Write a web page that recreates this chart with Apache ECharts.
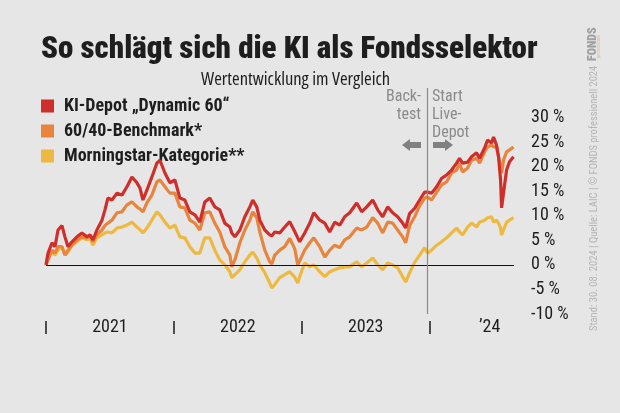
<!DOCTYPE html>
<html>
<head>
<meta charset="utf-8">
<script src="https://cdn.jsdelivr.net/npm/echarts@6/dist/echarts.min.js"></script>
<style>html,body{margin:0;padding:0;background:#e6e6e6}#c{width:620px;height:413px}</style>
</head>
<body>
<div id="c"></div>
<script>
// decimal years
const dates = [2021.000,2021.016,2021.047,2021.070,2021.094,2021.125,2021.148,2021.172,2021.203,2021.242,2021.281,2021.320,2021.344,2021.367,2021.398,2021.438,2021.461,2021.484,2021.516,2021.555,2021.594,2021.633,2021.672,2021.711,2021.734,2021.758,2021.789,2021.828,2021.867,2021.891,2021.930,2021.969,2022.008,2022.047,2022.086,2022.125,2022.164,2022.203,2022.242,2022.281,2022.320,2022.359,2022.398,2022.438,2022.453,2022.477,2022.516,2022.555,2022.594,2022.617,2022.648,2022.672,2022.711,2022.750,2022.766,2022.789,2022.828,2022.867,2022.906,2022.945,2022.969,2022.984,2023.023,2023.063,2023.094,2023.141,2023.180,2023.219,2023.258,2023.297,2023.336,2023.375,2023.430,2023.469,2023.508,2023.555,2023.594,2023.633,2023.672,2023.711,2023.750,2023.789,2023.813,2023.844,2023.883,2023.922,2023.961,2023.984,2024.016,2024.055,2024.094,2024.133,2024.172,2024.211,2024.234,2024.258,2024.297,2024.328,2024.367,2024.391,2024.430,2024.453,2024.484,2024.500,2024.523,2024.539,2024.555,2024.563,2024.578,2024.602,2024.625,2024.656];
const kiDepot = [0,2.4,4.5,3.7,7.1,8.0,5.7,3.7,4.7,5.7,6.5,5.7,6.1,5.1,7.1,9.1,11.2,13.6,13.2,14.6,14.2,15.9,17.9,16.7,15.7,13.2,15.2,17.9,20.7,21.3,18.7,16.7,17.3,13.6,13.2,10.8,10.2,8.7,12.8,13.6,11.8,11.2,8.5,7.7,6.5,5.7,7.1,9.8,11.8,13.2,11.8,9.1,7.1,6.1,5.9,6.7,6.5,7.7,8.8,6.8,5.5,4.7,6.5,8.5,10.6,9.1,8.5,6.7,8.7,8.1,9.8,10.6,12.6,10.8,11.8,13.2,11.2,9.8,11.8,10.6,9.8,8.5,7.5,10.5,11.5,13.2,14.8,14.8,14.6,15.9,17.6,18.3,19.3,20.7,21.7,20.7,20.9,22.0,22.8,21.7,23.8,25.4,24.8,26.0,24.4,22.0,17.3,11.6,14.6,19.3,21.0,22.0];
const benchmark = [0,1.0,3.0,2.4,3.7,3.7,2.0,3.0,4.0,5.1,5.7,5.5,6.0,4.7,6.1,7.1,8.0,8.5,9.1,10.6,10.8,12.2,12.8,11.8,11.4,10.8,12.6,14.2,16.9,17.3,15.9,14.6,14.6,11.8,11.6,9.1,8.5,7.1,10.6,10.8,8.5,6.7,3.7,2.0,-0.4,1.0,4.5,7.1,9.1,10.8,9.6,6.7,3.0,0.6,0.2,2.0,3.0,3.7,5.4,3.3,0.0,0.4,3.0,4.5,5.5,3.7,1.6,3.0,4.0,3.5,5.1,5.7,7.5,7.1,7.7,9.6,8.5,6.5,8.7,8.5,7.1,5.7,4.5,8.0,9.8,12.0,13.6,13.8,13.2,14.8,16.3,16.9,18.7,19.3,20.7,18.9,19.7,21.3,21.7,20.7,23.0,24.0,24.4,24.0,24.0,22.0,19.9,18.7,21.3,23.0,23.4,24.0];
const morningstar = [0,1.6,2.6,2.0,3.0,3.7,2.0,2.6,4.0,4.7,5.5,5.1,5.4,4.0,5.5,6.1,6.5,6.7,6.5,7.5,7.7,8.1,8.7,7.7,7.2,6.5,7.5,9.1,10.8,10.2,8.7,7.5,8.1,5.7,5.5,3.7,2.4,2.4,5.5,5.5,3.0,1.0,0,-1.4,-2.6,-2.0,-1.0,0.6,2.0,2.6,1.4,0,-1.6,-3.7,-4.7,-4.0,-2.6,-2.0,-1.4,-2.5,-3.7,-2.4,0.4,-0.4,0,-1.4,-2.4,-1.4,-1.0,-0.6,-0.4,-0.4,0.6,-0.4,0.4,1.4,0,-1.0,0.4,0,-0.6,-2.4,-3.5,-1.6,0.5,2.0,3.5,2.4,3.0,4.0,4.7,5.5,6.5,7.5,6.7,6.1,7.7,8.5,7.7,8.7,9.1,9.6,9.8,8.7,9.1,8.5,7.5,6.1,7.1,8.7,9.1,9.6];
const seriesNames = ['KI-Depot \u201EDynamic 60\u201C', '60/40-Benchmark*', 'Morningstar-Kategorie**'];
const yearTicks = [2021, 2022, 2023, 2024];
const yearLabelPos = [2021.5, 2022.5, 2023.5, 2024.47];
const yearLabels = ['2021', '2022', '2023', '\u201924'];
const liveStart = 2023.98;

const colors = ['#cf2f2a', '#e8843c', '#eeb940'];
const fam = 'Roboto';
const st = 'condensed';
const ink = '#1e1e1e';
const annot = '#8a8a8a';

function pair(arr){ return dates.map((d,i)=>[d, arr[i]]); }

const chart = echarts.init(document.getElementById('c'), null, {renderer:'canvas'});
chart.setOption({
  backgroundColor: '#e6e6e6',
  animation: false,
  title: [
    {text: 'So schlägt sich die KI als Fondsselektor', left: 36, top: 30,
     textStyle: {fontFamily: fam, fontStyle: st, fontWeight: 900, fontSize: 31, color: ink}},
    {text: 'Wertentwicklung im Vergleich', left: 196, top: 65,
     textStyle: {fontFamily: 'Open Sans', fontStyle: st, fontWeight: 'normal', fontSize: 18.5, color: ink}}
  ],
  legend: {
    orient: 'vertical', left: 41, top: 97, itemGap: 7, padding: 0,
    icon: 'rect', itemWidth: 13, itemHeight: 13,
    textStyle: {fontFamily: fam, fontStyle: st, fontWeight: 'bold', fontSize: 18, color: ink, padding: [0,0,0,5]},
    data: seriesNames
  },
  grid: {left: 46, right: 106, top: 88, bottom: 99},
  xAxis: {
    type: 'value', min: 2021, max: 2024.66, offset: 7,
    splitLine: {show: false},
    axisLine: {show: false, onZero: false},
    axisTick: {show: true, customValues: yearTicks, length: 13, lineStyle: {color: ink, width: 1.5}},
    axisLabel: {customValues: yearLabelPos, verticalAlign: 'middle', margin: 6,
      fontFamily: fam, fontStyle: st, fontSize: 18, color: ink,
      formatter: v => { const i = yearLabelPos.findIndex(p => Math.abs(p - v) < 1e-6); return i >= 0 ? yearLabels[i] : ''; }}
  },
  yAxis: {
    type: 'value', position: 'right', min: -10, max: 36, interval: 5,
    splitLine: {show: false}, axisLine: {show: false}, axisTick: {show: false},
    axisLabel: {margin: 17, fontFamily: fam, fontStyle: st, fontSize: 18, color: ink,
      formatter: v => v <= 30 ? v + ' %' : ''}
  },
  series: [
    {name: seriesNames[2], type: 'line', data: pair(morningstar), showSymbol: false, symbol: 'none',
     lineStyle: {color: colors[2], width: 3.2}, itemStyle: {color: colors[2]}, z: 2,
     markLine: {silent: true, symbol: 'none', label: {show: false},
       lineStyle: {color: '#111', width: 1, type: 'solid'},
       data: [{yAxis: 0}, {xAxis: liveStart, lineStyle: {color: '#8a8a8a', width: 1.2}}]}},
    {name: seriesNames[1], type: 'line', data: pair(benchmark), showSymbol: false, symbol: 'none',
     lineStyle: {color: colors[1], width: 3.2}, itemStyle: {color: colors[1]}, z: 3},
    {name: seriesNames[0], type: 'line', data: pair(kiDepot), showSymbol: false, symbol: 'none',
     lineStyle: {color: colors[0], width: 3.2}, itemStyle: {color: colors[0]}, z: 4}
  ],
  graphic: [
    {type: 'text', x: 421, y: 88, style: {text: 'Back-\ntest', fontFamily: fam, fontStyle: st, fontSize: 16, fill: annot, lineHeight: 18, align: 'right'}},
    {type: 'text', x: 432, y: 88, style: {text: 'Start\nLive-\nDepot', fontFamily: fam, fontStyle: st, fontSize: 16, fill: annot, lineHeight: 18}},
    {type: 'polygon', shape: {points: [[402,145],[410,139],[410,142],[421,142],[421,148],[410,148],[410,151]]}, style: {fill: '#808080'}},
    {type: 'polygon', shape: {points: [[453,145],[445,139],[445,142],[433,142],[433,148],[445,148],[445,151]]}, style: {fill: '#808080'}},
    {type: 'text', x: 587, y: 61, rotation: Math.PI/2, style: {text: 'FONDS', fontFamily: fam, fontStyle: st, fontWeight: 900, fontSize: 12, fill: '#a0a0a0'}},
    {type: 'text', x: 596, y: 58, rotation: Math.PI/2, style: {text: 'professionell', fontFamily: fam, fontStyle: st, fontSize: 4.5, fill: '#e2b8a8'}},
    {type: 'text', x: 589, y: 331, rotation: Math.PI/2, style: {text: 'Stand: 30. 08. 2024 | Quelle: LAIC | \u00A9 FONDS professionell 2024', fontFamily: fam, fontStyle: st, fontSize: 10.5, fill: '#b4b4b4'}}
  ]
});
</script>
</body>
</html>
